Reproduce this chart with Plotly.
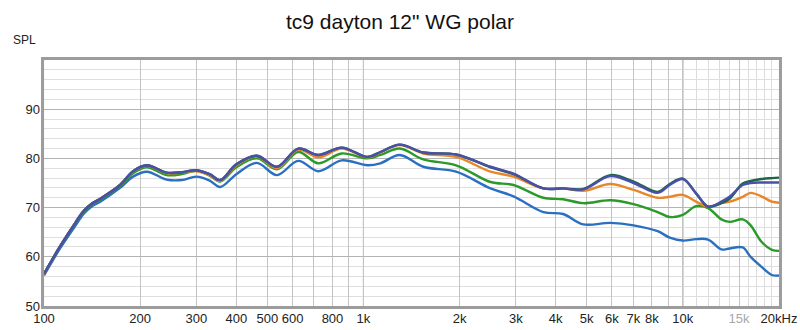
import plotly.graph_objects as go

# Frequency points (Hz) shared by all traces
freq = [100, 112, 125, 133, 141, 150, 173, 190, 210, 242, 270, 300, 330, 356, 400, 464,
        536, 625, 722, 855, 1030, 1130, 1300, 1540, 1950, 2500, 2950, 3660, 4220,
        4880, 5930, 7010, 8340, 9100, 10000, 11000, 12000, 13200, 14000, 15400,
        16300, 17600, 19000, 20000]

spl_blue = [56.2, 61.6, 66.2, 68.7, 70.2, 71.2, 74.0, 76.3, 77.3, 75.7, 75.6, 76.3, 75.5, 74.2, 76.8, 79.1,
            76.6, 79.5, 77.4, 79.6, 78.6, 79.0, 80.7, 78.3, 77.3, 73.9, 72.3, 69.1, 68.7,
            66.6, 66.9, 66.4, 65.2, 63.9, 63.3, 63.6, 63.5, 61.5, 61.7, 61.9,
            60.0, 58.0, 56.3, 56.2]

spl_green = [56.5, 62.0, 66.7, 69.1, 70.6, 71.6, 74.4, 77.0, 78.2, 76.6, 76.8, 77.5, 76.5, 75.3, 78.2, 80.0,
             77.8, 81.3, 79.0, 81.0, 80.0, 80.7, 82.0, 79.8, 78.6, 75.2, 74.6, 72.0, 71.7,
             70.9, 71.5, 70.7, 69.1, 68.1, 68.5, 70.3, 69.9, 67.6, 67.1, 67.6,
             66.4, 63.1, 61.4, 61.2]

spl_orange = [56.4, 62.0, 66.8, 69.3, 70.8, 71.8, 74.6, 77.3, 78.5, 77.0, 77.1, 77.4, 76.6, 75.4, 78.6, 80.4,
              78.0, 81.8, 80.2, 82.0, 80.2, 81.2, 82.7, 81.0, 80.3, 77.3, 76.3, 73.9, 73.9,
              73.4, 74.8, 73.6, 72.0, 72.2, 72.6, 71.2, 70.2, 70.9, 71.2, 72.2,
              73.0, 72.3, 71.2, 71.0]

spl_darkgreen = [56.5, 62.0, 66.8, 69.3, 70.8, 71.8, 74.6, 77.4, 78.6, 77.1, 77.2, 77.6, 76.8, 75.6, 78.8, 80.5,
                 78.3, 82.0, 80.7, 82.2, 80.3, 81.3, 82.8, 81.2, 80.8, 78.2, 76.8, 73.9, 73.9,
                 73.8, 76.6, 75.3, 73.2, 74.8, 75.9, 72.9, 70.2, 70.9, 71.8, 74.9,
                 75.4, 75.8, 76.0, 76.1]

spl_purple = [56.5, 62.0, 66.8, 69.3, 70.8, 71.8, 74.6, 77.4, 78.6, 77.1, 77.2, 77.6, 76.8, 75.6, 78.8, 80.6,
              78.3, 82.0, 80.7, 82.2, 80.3, 81.3, 82.8, 81.2, 80.8, 78.3, 76.9, 73.9, 73.9,
              73.7, 76.4, 75.0, 73.0, 74.6, 75.8, 72.9, 70.2, 71.2, 72.2, 74.6,
              75.0, 75.1, 75.1, 75.1]

series = [
    (spl_blue, "#2b6fc0"),
    (spl_green, "#2b9a2b"),
    (spl_orange, "#e8862a"),
    (spl_darkgreen, "#1d6645"),
    (spl_purple, "#4a50a8"),
]

x_ticks = [100, 200, 300, 400, 500, 600, 700, 800, 900,
           1000, 2000, 3000, 4000, 5000, 6000, 7000, 8000, 9000,
           10000, 15000, 20000]
x_labels = ["100", "200", "300", "400", "500", "600", "", "800", "",
            "1k", "2k", "3k", "4k", "5k", "6k", "7k", "8k", "",
            "10k", "<span style='color:#a8a8a8'>15k</span>", "20kHz"]
x_minor = [11000, 12000, 13000, 14000, 16000, 17000, 18000, 19000]
y_ticks = [50, 60, 70, 80, 90]

fig = go.Figure()
for vals, col in series:
    fig.add_trace(go.Scatter(x=freq, y=vals, mode="lines",
                             line=dict(color=col, width=2.4, shape="spline", smoothing=1.0),
                             showlegend=False, hoverinfo="skip"))

# darker decade lines
for f in (1000, 10000):
    fig.add_shape(type="line", xref="x", yref="paper", x0=f, x1=f, y0=0, y1=1,
                  line=dict(color="#808080", width=1), layer="below")

# bevelled frame round the plot area
fig.add_shape(type="rect", xref="paper", yref="paper", x0=-0.002, x1=1.002, y0=-0.006, y1=1.006,
              line=dict(color="#9c9c9c", width=3), layer="above")

fig.update_layout(
    width=800, height=330,
    margin=dict(l=44, r=21, t=60, b=24),
    paper_bgcolor="white", plot_bgcolor="white",
    font=dict(family="Liberation Sans, Arial, sans-serif", size=13, color="#222222"),
    title=dict(text="tc9 dayton 12\" WG polar", x=0.5, xanchor="center", y=0.935, yanchor="middle",
               font=dict(size=21, color="#111111")),
    xaxis=dict(type="log", range=[2, 4.30103], tickmode="array", tickvals=x_ticks, ticktext=x_labels,
               showgrid=True, gridcolor="#c4c4c4", gridwidth=1, zeroline=False, ticks="",
               showline=False, tickfont=dict(size=13), automargin=False, ticklabelstandoff=3,
               minor=dict(tickmode="array", tickvals=x_minor, showgrid=True, gridcolor="#dcdcdc",
                          gridwidth=1, ticks="")),
    yaxis=dict(range=[50, 100], tickmode="array", tickvals=y_ticks,
               showgrid=True, gridcolor="#b4b4b4", gridwidth=1, zeroline=False, ticks="",
               showline=False, tickfont=dict(size=13), ticklabelstandoff=3, automargin=False,
               minor=dict(dtick=2, showgrid=True, gridcolor="#dedede", gridwidth=1, ticks="")),
)

fig.add_annotation(text="SPL", xref="paper", yref="paper", x=-0.008, y=1.045,
                   xanchor="right", yanchor="bottom", showarrow=False, font=dict(size=12, color="#222222"))

fig.write_html("out.html")
